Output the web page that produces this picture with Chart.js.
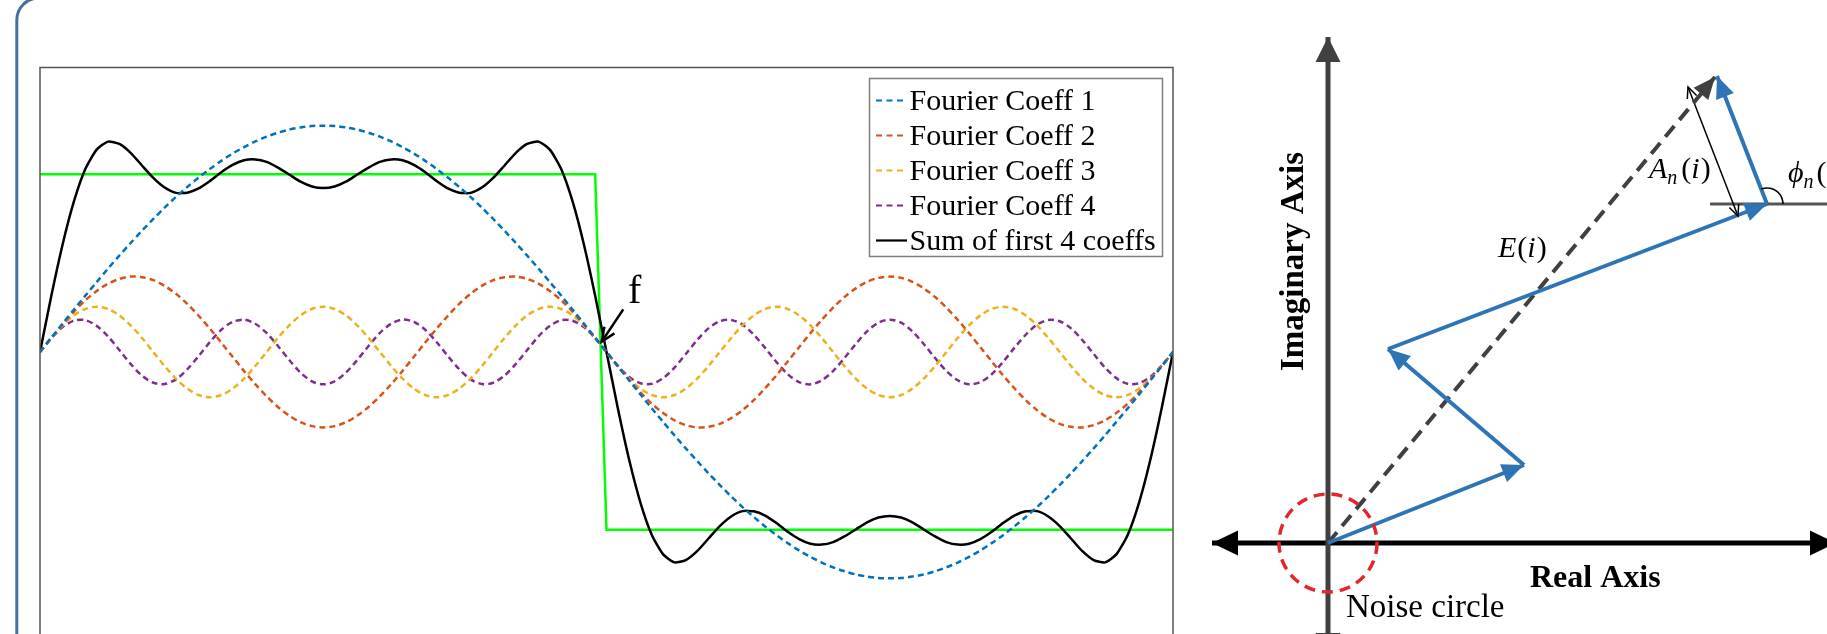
<!DOCTYPE html>
<html>
<head>
<meta charset="utf-8">
<script src="https://cdn.jsdelivr.net/npm/chart.js"></script>
<style>
  html, body { margin: 0; padding: 0; background: #fff; overflow: hidden; width: 1827px; height: 634px; }
  #left { position: absolute; left: 0; top: 0; }
  #right { position: absolute; left: 1190px; top: 0; }
</style>
</head>
<body>
<canvas id="left" width="1190" height="700"></canvas>
<canvas id="right" width="637" height="634"></canvas>
<script>
// ---- left panel: square wave and its first 4 Fourier terms ----
const xVals = [0, 0.01, 0.02, 0.03, 0.04, 0.05, 0.06, 0.07, 0.08, 0.09, 0.10, 0.11, 0.12, 0.13, 0.14, 0.15, 0.16, 0.17, 0.18, 0.19,
  0.20, 0.21, 0.22, 0.23, 0.24, 0.25, 0.26, 0.27, 0.28, 0.29, 0.30, 0.31, 0.32, 0.33, 0.34, 0.35, 0.36, 0.37, 0.38, 0.39,
  0.40, 0.41, 0.42, 0.43, 0.44, 0.45, 0.46, 0.47, 0.48, 0.49, 0.50, 0.51, 0.52, 0.53, 0.54, 0.55, 0.56, 0.57, 0.58, 0.59,
  0.60, 0.61, 0.62, 0.63, 0.64, 0.65, 0.66, 0.67, 0.68, 0.69, 0.70, 0.71, 0.72, 0.73, 0.74, 0.75, 0.76, 0.77, 0.78, 0.79,
  0.80, 0.81, 0.82, 0.83, 0.84, 0.85, 0.86, 0.87, 0.88, 0.89, 0.90, 0.91, 0.92, 0.93, 0.94, 0.95, 0.96, 0.97, 0.98, 0.99, 1.00];

const coeff1 = [0, .080, .160, .239, .317, .393, .469, .542, .613, .682, .748, .812, .872, .928, .981, 1.030, 1.075, 1.116, 1.152, 1.184, 1.211, 1.233, 1.251, 1.263, 1.271, 1.273,
  1.271, 1.263, 1.251, 1.233, 1.211, 1.184, 1.152, 1.116, 1.075, 1.030, .981, .928, .872, .812, .748, .682, .613, .542, .469, .393, .317, .239, .160, .080, 0,
  -.080, -.160, -.239, -.317, -.393, -.469, -.542, -.613, -.682, -.748, -.812, -.872, -.928, -.981, -1.030, -1.075, -1.116, -1.152, -1.184, -1.211, -1.233, -1.251, -1.263, -1.271, -1.273,
  -1.271, -1.263, -1.251, -1.233, -1.211, -1.184, -1.152, -1.116, -1.075, -1.030, -.981, -.928, -.872, -.812, -.748, -.682, -.613, -.542, -.469, -.393, -.317, -.239, -.160, -.080, 0];

const coeff2 = [0, .080, .156, .227, .291, .343, .384, .411, .424, .421, .404, .372, .327, .271, .204, .131, .053, -.027, -.106, -.181, -.249, -.309, -.358, -.395, -.417, -.424,
  -.417, -.395, -.358, -.309, -.249, -.181, -.106, -.027, .053, .131, .204, .271, .327, .372, .404, .421, .424, .411, .384, .343, .291, .227, .156, .080, 0,
  -.080, -.156, -.227, -.291, -.343, -.384, -.411, -.424, -.421, -.404, -.372, -.327, -.271, -.204, -.131, -.053, .027, .106, .181, .249, .309, .358, .395, .417, .424,
  .417, .395, .358, .309, .249, .181, .106, .027, -.053, -.131, -.204, -.271, -.327, -.372, -.404, -.421, -.424, -.411, -.384, -.343, -.291, -.227, -.156, -.080, 0];

const coeff3 = [0, .079, .150, .206, .242, .255, .242, .206, .150, .079, 0, -.079, -.150, -.206, -.242, -.255, -.242, -.206, -.150, -.079, 0, .079, .150, .206, .242, .255,
  .242, .206, .150, .079, 0, -.079, -.150, -.206, -.242, -.255, -.242, -.206, -.150, -.079, 0, .079, .150, .206, .242, .255, .242, .206, .150, .079, 0,
  -.079, -.150, -.206, -.242, -.255, -.242, -.206, -.150, -.079, 0, .079, .150, .206, .242, .255, .242, .206, .150, .079, 0, -.079, -.150, -.206, -.242, -.255,
  -.242, -.206, -.150, -.079, 0, .079, .150, .206, .242, .255, .242, .206, .150, .079, 0, -.079, -.150, -.206, -.242, -.255, -.242, -.206, -.150, -.079, 0];

const coeff4 = [0, .077, .140, .176, .179, .147, .088, .011, -.067, -.133, -.173, -.180, -.154, -.097, -.023, .056, .125, .169, .182, .159, .107, .034, -.045, -.116, -.165, -.182,
  -.165, -.116, -.045, .034, .107, .159, .182, .169, .125, .056, -.023, -.097, -.154, -.180, -.173, -.133, -.067, .011, .088, .147, .179, .176, .140, .077, 0,
  -.077, -.140, -.176, -.179, -.147, -.088, -.011, .067, .133, .173, .180, .154, .097, .023, -.056, -.125, -.169, -.182, -.159, -.107, -.034, .045, .116, .165, .182,
  .165, .116, .045, -.034, -.107, -.159, -.182, -.169, -.125, -.056, .023, .097, .154, .180, .173, .133, .067, -.011, -.088, -.147, -.179, -.176, -.140, -.077, 0];

const sum4 = [0, .316, .606, .848, 1.029, 1.138, 1.183, 1.170, 1.120, 1.049, .979, .925, .895, .896, .920, .962, 1.011, 1.052, 1.078, 1.083, 1.069, 1.037, .998, .958, .931, .922,
  .931, .958, .998, 1.037, 1.069, 1.083, 1.078, 1.052, 1.011, .962, .920, .896, .895, .925, .979, 1.049, 1.120, 1.170, 1.183, 1.138, 1.029, .848, .606, .316, 0,
  -.316, -.606, -.848, -1.029, -1.138, -1.183, -1.170, -1.120, -1.049, -.979, -.925, -.895, -.896, -.920, -.962, -1.011, -1.052, -1.078, -1.083, -1.069, -1.037, -.998, -.958, -.931, -.922,
  -.931, -.958, -.998, -1.037, -1.069, -1.083, -1.078, -1.052, -1.011, -.962, -.920, -.896, -.895, -.925, -.979, -1.049, -1.120, -1.170, -1.183, -1.138, -1.029, -.848, -.606, -.316, 0];

const squareX = [0, 0.49, 0.50, 1];
const squareY = [1, 1, -1, -1];

const seriesNames = ['Fourier Coeff 1', 'Fourier Coeff 2', 'Fourier Coeff 3', 'Fourier Coeff 4', 'Sum of first 4 coeffs'];
const seriesColors = ['#0072BD', '#D95319', '#EDB120', '#7E2F8E', '#000000'];

// ---- right panel: phasor sum (plot units) ----
const vecX = [0, 19.6, 6.0, 43.9, 38.9];
const vecY = [0, 7.8, 19.4, 33.9, 46.7];
const resX = [0, 38.7];
const resY = [0, 46.6];
const ampX = [36.0, 41.0];
const ampY = [45.6, 32.7];
const phiX = [38.2, 53];
const phiY = [33.9, 33.9];
const realX = [-11.6, 50.8];
const realY = [0, 0];
const imagX = [0, 0];
const imagY = [-11.5, 50.6];
const noiseR = 4.9;

const serif = '"Liberation Serif", "DejaVu Serif", serif';

function pts(xs, ys) {
  return xs.map((x, i) => ({ x: x, y: ys[i] }));
}

function arrowHead(ctx, from, to, a) {
  const dx = to.x - from.x, dy = to.y - from.y, d = Math.hypot(dx, dy);
  const ux = dx / d, uy = dy / d;
  const bx = to.x - ux * a.len, by = to.y - uy * a.len;
  ctx.beginPath();
  if (a.open) {
    ctx.moveTo(bx - uy * a.half, by + ux * a.half);
    ctx.lineTo(to.x, to.y);
    ctx.lineTo(bx + uy * a.half, by - ux * a.half);
    ctx.strokeStyle = a.color;
    ctx.lineWidth = a.lw;
    ctx.setLineDash([]);
    ctx.stroke();
  } else {
    ctx.moveTo(to.x, to.y);
    ctx.lineTo(bx - uy * a.half, by + ux * a.half);
    ctx.lineTo(bx + uy * a.half, by - ux * a.half);
    ctx.closePath();
    ctx.fillStyle = a.color;
    ctx.fill();
  }
}

// draw a row of [text, font, dy, gapBefore] pieces
function drawPieces(ctx, pieces, x, y) {
  pieces.forEach(p => {
    x += p[3] || 0;
    ctx.font = p[1];
    ctx.fillText(p[0], x, y + p[2]);
    x += ctx.measureText(p[0]).width;
  });
}

// ---------- left chart ----------
const leftSets = [coeff1, coeff2, coeff3, coeff4].map((vals, i) => ({
  label: seriesNames[i],
  data: pts(xVals, vals),
  borderColor: seriesColors[i],
  borderWidth: 2.5,
  borderDash: [6, 4],
  pointRadius: 0,
  tension: 0.3
}));
leftSets.push({ label: seriesNames[4], data: pts(xVals, sum4), borderColor: '#000', borderWidth: 2.5, pointRadius: 0, tension: 0.2 });
leftSets.push({ label: 'square', data: pts(squareX, squareY), borderColor: '#00ff00', borderWidth: 2.5, pointRadius: 0, tension: 0 });

const leftDecor = {
  id: 'leftDecor',
  beforeDraw(chart) {
    const ctx = chart.ctx;
    ctx.save();
    // rounded panel border, top-left corner
    ctx.strokeStyle = '#44709e';
    ctx.lineWidth = 3;
    ctx.beginPath();
    ctx.moveTo(16.8, 720);
    ctx.lineTo(16.8, 20);
    ctx.arcTo(16.8, -2, 40, -2, 22);
    ctx.lineTo(1190, -2);
    ctx.stroke();
    ctx.restore();
  },
  afterDatasetsDraw(chart) {
    const ctx = chart.ctx, ca = chart.chartArea, sx = chart.scales.x, sy = chart.scales.y;
    ctx.save();
    ctx.strokeStyle = '#555';
    ctx.lineWidth = 1.5;
    ctx.strokeRect(ca.left, ca.top, ca.right - ca.left, ca.bottom - ca.top);

    // legend
    const lx = ca.right - 303.5, ly = ca.top + 11;
    ctx.fillStyle = '#fff';
    ctx.fillRect(lx, ly, 293, 178);
    ctx.strokeStyle = '#7f7f7f';
    ctx.strokeRect(lx, ly, 293, 178);
    seriesNames.forEach((name, i) => {
      const by = ly + 31 + 35 * i;
      ctx.beginPath();
      ctx.setLineDash(i < 4 ? [6, 4.5] : []);
      ctx.strokeStyle = seriesColors[i];
      ctx.lineWidth = 2.2;
      ctx.moveTo(lx + 6.5, by - 9);
      ctx.lineTo(lx + 37.5, by - 9);
      ctx.stroke();
      ctx.setLineDash([]);
      ctx.fillStyle = '#000';
      ctx.font = '30px ' + serif;
      ctx.textBaseline = 'alphabetic';
      ctx.fillText(name, lx + 40, by);
    });

    // "f" marker
    ctx.fillStyle = '#000';
    ctx.font = '40px ' + serif;
    ctx.fillText('f', sx.getPixelForValue(0.519), sy.getPixelForValue(0.276));
    const tail = { x: sx.getPixelForValue(0.5148), y: sy.getPixelForValue(0.240) };
    const tip = { x: sx.getPixelForValue(0.4957), y: sy.getPixelForValue(0.058) };
    ctx.beginPath();
    ctx.moveTo(tail.x, tail.y);
    ctx.lineTo(tip.x, tip.y);
    ctx.strokeStyle = '#000';
    ctx.lineWidth = 2.5;
    ctx.stroke();
    arrowHead(ctx, tail, tip, { len: 14, half: 6, color: '#000', open: true, lw: 2.5 });
    ctx.restore();
  }
};

new Chart(document.getElementById('left'), {
  type: 'line',
  data: { datasets: leftSets },
  options: {
    responsive: false,
    animation: false,
    devicePixelRatio: 1,
    events: [],
    layout: { padding: { left: 40, right: 17, top: 67.5, bottom: 63.5 } },
    scales: {
      x: { type: 'linear', min: 0, max: 1, display: false },
      y: { type: 'linear', min: -1.6, max: 1.6, display: false }
    },
    plugins: { legend: { display: false }, tooltip: { enabled: false } }
  },
  plugins: [leftDecor]
});

// ---------- right chart ----------
const blueHead = { len: 22, half: 9.5, color: '#2e75b6' };
const rightSets = [];
for (let k = 1; k < vecX.length; k++) {
  rightSets.push({
    data: pts([vecX[k - 1], vecX[k]], [vecY[k - 1], vecY[k]]),
    borderColor: '#2e75b6', borderWidth: 4, arrow: blueHead
  });
}
rightSets.push({ data: pts(resX, resY), borderColor: '#404040', borderWidth: 4, borderDash: [14, 8],
  arrow: { len: 22, half: 9.5, color: '#404040' } });
rightSets.push({ data: pts(ampX, ampY), borderColor: '#000', borderWidth: 1.5,
  arrow: { len: 11, half: 5, color: '#000', open: true, lw: 1.5, both: true } });
rightSets.push({ data: pts(phiX, phiY), borderColor: '#555', borderWidth: 3 });
rightSets.push({ data: pts(imagX, imagY), borderColor: '#404040', borderWidth: 5,
  arrow: { len: 25, half: 12.5, color: '#404040', both: true } });
rightSets.push({ data: pts(realX, realY), borderColor: '#000', borderWidth: 5,
  arrow: { len: 26, half: 12.5, color: '#000', both: true } });
rightSets.forEach(d => { d.showLine = true; d.pointRadius = 0; d.fill = false; });

const rightDecor = {
  id: 'rightDecor',
  afterDatasetsDraw(chart) {
    const ctx = chart.ctx, sx = chart.scales.x, sy = chart.scales.y;
    const P = (x, y) => ({ x: sx.getPixelForValue(x), y: sy.getPixelForValue(y) });
    ctx.save();

    // noise circle
    const o = P(0, 0);
    const r = sx.getPixelForValue(noiseR) - o.x;
    ctx.beginPath();
    ctx.arc(o.x, o.y, r, 0, Math.PI * 2);
    ctx.setLineDash([11, 7]);
    ctx.lineWidth = 3.5;
    ctx.strokeStyle = '#e3262c';
    ctx.stroke();
    ctx.setLineDash([]);

    // arrow heads at dataset ends
    chart.data.datasets.forEach((ds, i) => {
      if (!ds.arrow) return;
      const p = chart.getDatasetMeta(i).data;
      const n = p.length;
      arrowHead(ctx, p[n - 2], p[n - 1], ds.arrow);
      if (ds.arrow.both) arrowHead(ctx, p[1], p[0], ds.arrow);
    });

    // phase angle arc
    const c = P(vecX[3], vecY[3]);
    const t = P(vecX[4], vecY[4]);
    ctx.beginPath();
    ctx.arc(c.x, c.y, 16, Math.atan2(t.y - c.y, t.x - c.x), 0);
    ctx.strokeStyle = '#000';
    ctx.lineWidth = 1.6;
    ctx.stroke();

    // labels
    ctx.fillStyle = '#000';
    ctx.textBaseline = 'alphabetic';
    const it = 'italic 30px ' + serif, up = '30px ' + serif, sub = 'italic 20px ' + serif;
    let q = P(32.1, 36.5);
    drawPieces(ctx, [['A', it, 0], ['n', sub, 6, 0], ['(', up, 0, 4], ['i', it, 0, 0], [')', up, 0, 1]], q.x, q.y);
    q = P(17.0, 28.6);
    drawPieces(ctx, [['E', it, 0], ['(', up, 0, 1], ['i', it, 0, 0], [')', up, 0, 1]], q.x, q.y);
    q = P(46.0, 36.1);
    drawPieces(ctx, [['\u03D5', it, 0], ['n', sub, 6, 0], ['(', up, 0, 3]], q.x, q.y);

    ctx.font = 'bold 32px ' + serif;
    q = P(20.2, -4.4);
    ctx.fillText('Real Axis', q.x, q.y);

    ctx.font = '33px ' + serif;
    q = P(1.8, -7.4);
    ctx.fillText('Noise circle', q.x, q.y);

    q = P(-2.5, 28.15);
    ctx.translate(q.x, q.y);
    ctx.rotate(-Math.PI / 2);
    ctx.font = 'bold 33px ' + serif;
    ctx.textAlign = 'center';
    ctx.fillText('Imaginary Axis', 0, 0);
    ctx.restore();
  }
};

new Chart(document.getElementById('right'), {
  type: 'scatter',
  data: { datasets: rightSets },
  options: {
    responsive: false,
    animation: false,
    devicePixelRatio: 1,
    events: [],
    layout: { padding: 0 },
    scales: {
      x: { type: 'linear', min: -13.8, max: 49.9, display: false },
      y: { type: 'linear', min: -9.1, max: 54.3, display: false }
    },
    plugins: { legend: { display: false }, tooltip: { enabled: false } }
  },
  plugins: [rightDecor]
});
</script>
</body>
</html>
